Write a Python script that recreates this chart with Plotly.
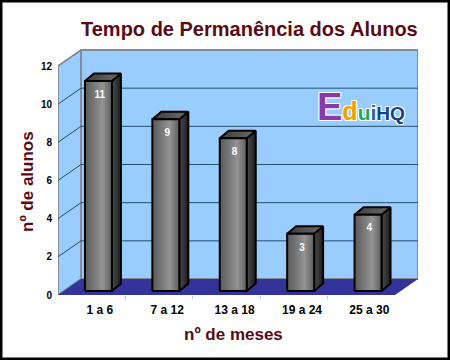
import plotly.graph_objects as go

categories = ["1 a 6", "7 a 12", "13 a 18", "19 a 24", "25 a 30"]
alunos = [11, 9, 8, 3, 4]
y_ticks = [0, 2, 4, 6, 8, 10, 12]
titulo = "Tempo de Permanência dos Alunos"
titulo_y = "nº de alunos"
titulo_x = "nº de meses"

W, H = 450, 360
L, R, T, B = 58, 32, 49, 65      # margins
BAND = 67.4                      # px per category
UNIT = 229 / 12                  # px per value
DX, DY = 23 / BAND, 16 / UNIT    # chart depth
BDX, BDY = 9 / BAND, 7.5 / UNIT  # bar depth
BASE = 4 / UNIT
HALF = 0.2
OFF = 0.6

n = len(categories)
ymax = 12
xr = [0, n + DX]
yr = [0, (H - B - T) / UNIT]

def poly(xs, ys, fill, line=None, lw=1, grad=None):
    kw = dict(x=xs + xs[:1], y=ys + ys[:1], mode="lines", fill="toself",
              line=dict(color=line or "rgba(0,0,0,0)", width=lw),
              hoverinfo="skip", showlegend=False)
    if grad:
        kw["fillgradient"] = dict(type="horizontal", colorscale=grad)
        kw["fillcolor"] = "rgba(0,0,0,0)"
    else:
        kw["fillcolor"] = fill
    return go.Scatter(**kw)

fig = go.Figure()
GRAY = "#7f8a94"
# walls and floor
fig.add_trace(poly([DX, n + DX, n + DX, DX], [DY, DY, ymax + DY, ymax + DY], "#99ccff", GRAY, 1.8))
fig.add_trace(poly([0, DX, DX, 0], [0, DY, ymax + DY, ymax], "#99ccff", GRAY, 1.8))
fig.add_trace(poly([0, n, n + DX, DX], [0, 0, DY, DY], "#333399"))
# gridlines
for v in y_ticks[1:-1]:
    fig.add_trace(go.Scatter(x=[0, DX, n + DX], y=[v, v + DY, v + DY], mode="lines",
                             line=dict(color="#24506a", width=1), hoverinfo="skip", showlegend=False))
# bars
front = [[0, "#5a5a5a"], [0.65, "#939393"], [1, "#5e5e5e"]]
side = [[0, "#4d4d4d"], [1, "#1c1c1c"]]
top = [[0, "#3c3c3c"], [1, "#6c6c6c"]]
for i, v in enumerate(alunos):
    x0, x1 = i + OFF - HALF, i + OFF + HALF
    y0, y1 = BASE, BASE + v
    fig.add_trace(poly([x1, x1 + BDX, x1 + BDX, x1], [y0, y0 + BDY, y1 + BDY, y1], None, "#000000", 2, side))
    fig.add_trace(poly([x0, x1, x1 + BDX, x0 + BDX], [y1, y1, y1 + BDY, y1 + BDY], None, "#000000", 2, top))
    fig.add_trace(poly([x0, x1, x1, x0], [y0, y0, y1, y1], None, "#000000", 2, front))
fig.add_trace(go.Scatter(x=[i + OFF + 0.02 for i in range(n)], y=[BASE + v - 0.75 for v in alunos],
                         mode="text", text=[str(v) for v in alunos],
                         textfont=dict(family="Liberation Sans", size=10, color="white", weight="bold"),
                         hoverinfo="skip", showlegend=False))

def px(x): return (x - L) / (W - L - R)
def py(y): return 1 - (y - T) / (H - T - B)

text_color = "#5a0a14"
logo = ('<span style="color:#8a3aa8;font-size:38px">E</span>'
        '<span style="color:#f0a000;font-size:25px">d</span>'
        '<span style="color:#2aa84a;font-size:21px">u</span>'
        '<span style="color:#1f5fc0;font-size:21px">i</span>'
        '<span style="color:#10408f;font-size:19px">HQ</span>')
fig.update_layout(
    width=W, height=H, margin=dict(l=L, r=R, t=T, b=B, autoexpand=False),
    paper_bgcolor="white", plot_bgcolor="rgba(0,0,0,0)", showlegend=False,
    font=dict(family="Liberation Sans", color="black"),
    xaxis=dict(range=xr, showgrid=False, zeroline=False, showline=False, fixedrange=True,
               tickmode="array", tickvals=[i + 0.62 for i in range(n)], ticktext=categories,
               ticks="", tickfont=dict(size=12, weight="bold", color="black"),
               ticklabelstandoff=6,
               minor=dict(tickmode="array", tickvals=list(range(1, n)), ticks="outside", ticklen=3,
                          tickcolor="#c8c8c8", tickwidth=1)),
    yaxis=dict(range=yr, showgrid=False, zeroline=False, showline=False, fixedrange=True,
               tickmode="array", tickvals=y_ticks, ticks="",
               tickfont=dict(size=10, weight="bold", color="black"), ticklabelstandoff=5),
    shapes=[dict(type="rect", xref="paper", yref="paper", x0=px(1), x1=px(449), y0=py(1), y1=py(359),
                 line=dict(color="black", width=3), layer="above")],
    annotations=[
        dict(text=titulo, xref="paper", yref="paper", x=px(249), y=py(29), showarrow=False,
             xanchor="center", yanchor="middle",
             font=dict(size=20, weight="bold", color=text_color)),
        dict(text=titulo_y, xref="paper", yref="paper", x=px(27), y=py(182), showarrow=False, textangle=-90,
             xanchor="center", yanchor="middle",
             font=dict(size=17, weight="bold", color=text_color)),
        dict(text=titulo_x, xref="paper", yref="paper", x=px(233), y=py(334), showarrow=False,
             xanchor="center", yanchor="middle",
             font=dict(size=17, weight="bold", color=text_color)),
        dict(text=logo, xref="x", yref="y", x=4.5, y=9.85, showarrow=False,
             xanchor="center", yanchor="middle",
             font=dict(weight="bold", shadow="1px 1px 0 #fff, -1px -1px 0 #fff, 1px -1px 0 #fff, -1px 1px 0 #fff")),
    ],
)
fig.write_html("out.html", config={"displayModeBar": False},
               post_script="document.body.style.margin='0';document.documentElement.style.overflow='hidden';")
